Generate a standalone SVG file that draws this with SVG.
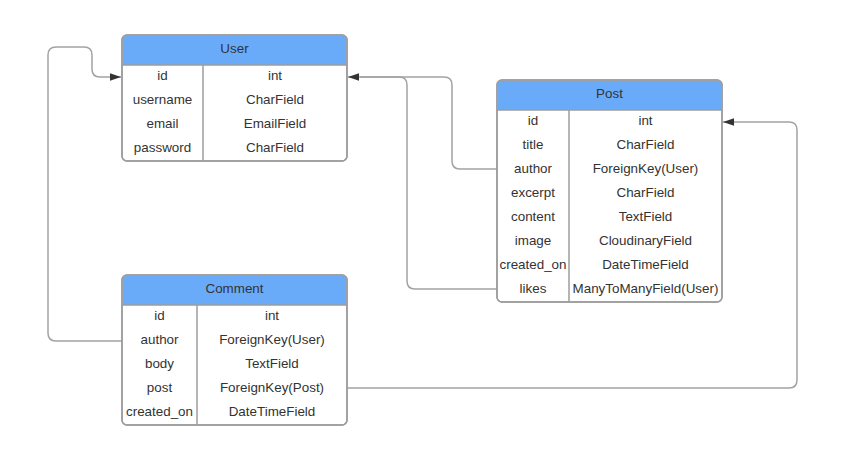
<svg xmlns="http://www.w3.org/2000/svg" width="846" height="461" viewBox="0 0 846 461">
<style>
.box{fill:#fff;stroke:#9c9c9c;stroke-width:1.5}
.hdr{fill:#6aabf9;stroke:none}
.ln{stroke:#9c9c9c;stroke-width:1.5;fill:none}
.t{font-family:"Liberation Sans",Arial,sans-serif;font-size:13.4px;fill:#333;text-anchor:middle}
.conn{fill:none;stroke:#a3a3a3;stroke-width:1.5}
</style>
<defs>
<marker id="arr" markerUnits="userSpaceOnUse" markerWidth="12" markerHeight="8" refX="11" refY="3.75" orient="auto">
<path d="M0,0 L11,3.75 L0,7.5 z" fill="#333"/>
</marker>
</defs>
<rect width="846" height="461" fill="#fff"/>
<g id="connectors">
<path class="conn" d="M122,341 H56 Q48,341 48,333 V55 Q48,47 56,47 H84 Q92,47 92,55 V69 Q92,77 100,77 H121" marker-end="url(#arr)"/>
<path class="conn" d="M497,289 H415 Q407,289 407,281 V85 Q407,77 399,77 H360"/>
<path class="conn" d="M497,169 H460 Q452,169 452,161 V85 Q452,77 444,77 H348" marker-end="url(#arr)"/>
<path class="conn" d="M347,388 H789 Q797,388 797,380 V130 Q797,122 789,122 H723" marker-end="url(#arr)"/>
</g>
<g id="user">
<rect class="box" x="122" y="35" width="225" height="126" rx="5"/>
<path class="hdr" d="M122.75,65 V40 Q122.75,35.75 127,35.75 H342 Q346.25,35.75 346.25,40 V65 z"/>
<rect x="122" y="35" width="225" height="126" rx="5" fill="none" stroke="#9c9c9c" stroke-width="1.5"/>
<line class="ln" x1="122" y1="65" x2="347" y2="65"/>
<line class="ln" x1="203" y1="65" x2="203" y2="161"/>
<text class="t" x="234.5" y="52.5">User</text>
<text class="t" x="162.5" y="79.5">id</text><text class="t" x="275" y="79.5">int</text>
<text class="t" x="162.5" y="103.5">username</text><text class="t" x="275" y="103.5">CharField</text>
<text class="t" x="162.5" y="127.5">email</text><text class="t" x="275" y="127.5">EmailField</text>
<text class="t" x="162.5" y="151.5">password</text><text class="t" x="275" y="151.5">CharField</text>
</g>
<g id="post">
<rect class="box" x="497" y="80" width="225" height="222" rx="5"/>
<path class="hdr" d="M497.75,110 V85 Q497.75,80.75 502,80.75 H717 Q721.25,80.75 721.25,85 V110 z"/>
<rect x="497" y="80" width="225" height="222" rx="5" fill="none" stroke="#9c9c9c" stroke-width="1.5"/>
<line class="ln" x1="497" y1="110" x2="722" y2="110"/>
<line class="ln" x1="569" y1="110" x2="569" y2="302"/>
<text class="t" x="609.5" y="97.5">Post</text>
<text class="t" x="533" y="124.5">id</text><text class="t" x="645.5" y="124.5">int</text>
<text class="t" x="533" y="148.5">title</text><text class="t" x="645.5" y="148.5">CharField</text>
<text class="t" x="533" y="172.5">author</text><text class="t" x="645.5" y="172.5">ForeignKey(User)</text>
<text class="t" x="533" y="196.5">excerpt</text><text class="t" x="645.5" y="196.5">CharField</text>
<text class="t" x="533" y="220.5">content</text><text class="t" x="645.5" y="220.5">TextField</text>
<text class="t" x="533" y="244.5">image</text><text class="t" x="645.5" y="244.5">CloudinaryField</text>
<text class="t" x="533" y="268.5">created_on</text><text class="t" x="645.5" y="268.5">DateTimeField</text>
<text class="t" x="533" y="292.5">likes</text><text class="t" x="645.5" y="292.5">ManyToManyField(User)</text>
</g>
<g id="comment">
<rect class="box" x="122" y="275" width="225" height="150" rx="5"/>
<path class="hdr" d="M122.75,305 V280 Q122.75,275.75 127,275.75 H342 Q346.25,275.75 346.25,280 V305 z"/>
<rect x="122" y="275" width="225" height="150" rx="5" fill="none" stroke="#9c9c9c" stroke-width="1.5"/>
<line class="ln" x1="122" y1="305" x2="347" y2="305"/>
<line class="ln" x1="197" y1="305" x2="197" y2="425"/>
<text class="t" x="234.5" y="292.5">Comment</text>
<text class="t" x="159.5" y="319.5">id</text><text class="t" x="272" y="319.5">int</text>
<text class="t" x="159.5" y="343.5">author</text><text class="t" x="272" y="343.5">ForeignKey(User)</text>
<text class="t" x="159.5" y="367.5">body</text><text class="t" x="272" y="367.5">TextField</text>
<text class="t" x="159.5" y="391.5">post</text><text class="t" x="272" y="391.5">ForeignKey(Post)</text>
<text class="t" x="159.5" y="415.5">created_on</text><text class="t" x="272" y="415.5">DateTimeField</text>
</g>
</svg>
